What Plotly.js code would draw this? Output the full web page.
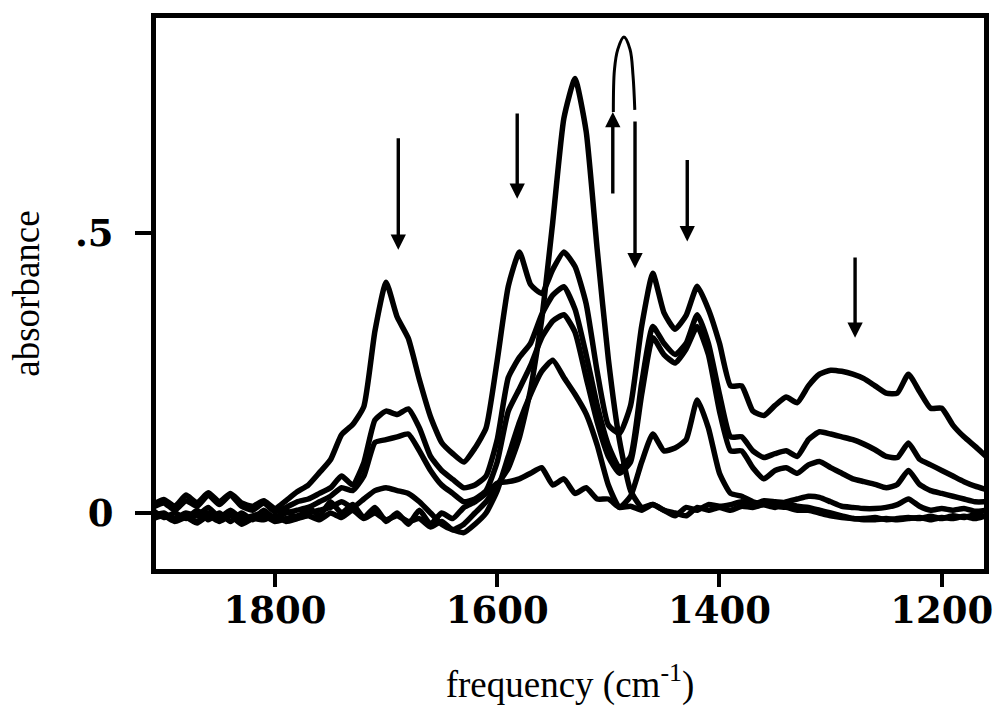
<!DOCTYPE html>
<html>
<head>
<meta charset="utf-8">
<script src="https://cdn.plot.ly/plotly-3.0.1.min.js"></script>
<style>html,body{margin:0;padding:0;background:#fff;}#chart{width:1002px;height:710px;}</style>
</head>
<body>
<div id="chart"></div>
<script>
// frequency grid (cm^-1)
const freq = [1910,1900,1890,1880,1870,1860,1850,1840,1830,1820,
  1810,1800,1790,1780,1770,1760,1750,1740,1730,1720,
  1710,1700,1690,1680,1670,1660,1650,1640,1630,1620,
  1610,1600,1590,1580,1570,1560,1550,1540,1530,1520,
  1510,1500,1490,1480,1470,1460,1450,1440,1430,1420,
  1410,1400,1390,1380,1370,1360,1350,1340,1330,1320,
  1310,1300,1290,1280,1270,1260,1250,1240,1230,1220,
  1210,1200,1190,1180,1170,1160];

// absorbance spectra
const spec1 = [0.015,0.024,0.012,0.032,0.018,0.036,0.020,0.035,0.018,0.012,
  0.022,0.008,0.022,0.038,0.050,0.072,0.095,0.140,0.158,0.190,
  0.325,0.412,0.350,0.312,0.238,0.172,0.126,0.106,0.091,0.116,
  0.152,0.272,0.405,0.466,0.408,0.392,0.435,0.466,0.440,0.374,
  0.252,0.157,0.142,0.192,0.334,0.428,0.358,0.328,0.353,0.405,
  0.364,0.303,0.227,0.227,0.182,0.174,0.192,0.207,0.197,0.227,
  0.248,0.255,0.253,0.248,0.240,0.227,0.214,0.214,0.248,0.217,
  0.187,0.187,0.157,0.136,0.119,0.101];
const spec2 = [0.010,0.018,0.005,0.022,0.012,0.032,0.015,0.032,0.012,0.005,
  0.018,0.002,0.010,0.020,0.025,0.035,0.045,0.066,0.050,0.090,
  0.166,0.182,0.176,0.186,0.152,0.101,0.076,0.060,0.045,0.050,
  0.066,0.131,0.242,0.278,0.303,0.354,0.389,0.404,0.364,0.283,
  0.192,0.121,0.081,0.101,0.232,0.333,0.303,0.283,0.303,0.354,
  0.303,0.212,0.136,0.136,0.111,0.099,0.106,0.111,0.101,0.131,
  0.145,0.141,0.136,0.131,0.123,0.113,0.101,0.099,0.125,0.096,
  0.086,0.076,0.066,0.056,0.048,0.042];
const spec3 = [0.000,-0.005,-0.010,0.000,-0.005,0.010,-0.008,0.005,-0.010,-0.005,
  0.000,-0.010,0.000,0.005,0.010,0.020,0.030,0.045,0.040,0.066,
  0.126,0.131,0.136,0.141,0.111,0.076,0.050,0.035,0.020,0.025,
  0.040,0.091,0.182,0.222,0.263,0.313,0.343,0.354,0.323,0.242,
  0.162,0.101,0.071,0.091,0.212,0.313,0.283,0.268,0.293,0.333,
  0.283,0.182,0.111,0.111,0.081,0.061,0.076,0.081,0.071,0.086,
  0.092,0.081,0.071,0.061,0.056,0.051,0.045,0.051,0.076,0.051,
  0.040,0.035,0.030,0.025,0.020,0.020];
const spec4 = [-0.005,0.000,-0.012,-0.005,-0.015,0.000,-0.012,0.000,-0.015,-0.010,
  -0.005,-0.015,-0.010,-0.005,0.000,0.005,0.010,0.020,0.010,0.025,
  0.040,0.045,0.040,0.035,0.020,0.000,-0.020,-0.030,-0.035,-0.020,
  0.000,0.040,0.101,0.162,0.212,0.253,0.273,0.242,0.212,0.177,
  0.121,0.050,0.010,0.030,0.091,0.141,0.111,0.116,0.131,0.202,
  0.152,0.071,0.035,0.030,0.020,0.015,0.010,0.020,0.025,0.030,
  0.028,0.020,0.012,0.010,0.008,0.008,0.010,0.015,0.025,0.012,
  0.005,0.008,0.005,0.008,0.003,0.005];
const spec5 = [0.005,-0.008,0.000,-0.010,0.005,-0.012,0.000,-0.015,0.000,-0.012,
  0.005,-0.010,0.005,-0.010,0.010,-0.005,0.020,0.000,0.015,-0.008,
  0.010,-0.015,0.000,-0.020,0.005,-0.020,0.000,-0.010,0.010,0.020,
  0.035,0.053,0.056,0.061,0.071,0.081,0.050,0.061,0.035,0.045,
  0.025,0.025,0.010,0.012,0.005,0.015,0.005,-0.005,0.010,0.005,
  0.015,0.012,0.015,0.020,0.015,0.022,0.020,0.018,0.012,0.010,
  0.005,0.000,-0.005,-0.010,-0.010,-0.008,-0.012,-0.010,-0.008,-0.010,
  -0.006,-0.010,-0.005,-0.008,-0.003,-0.006];
const spec6 = [-0.010,-0.005,-0.015,-0.008,-0.018,-0.005,-0.015,-0.005,-0.020,-0.010,
  -0.012,-0.005,-0.015,-0.010,-0.005,-0.012,0.000,-0.008,0.005,-0.010,
  0.000,-0.012,-0.005,-0.015,-0.010,-0.025,-0.015,-0.030,-0.020,0.000,
  0.020,0.050,0.080,0.135,0.220,0.345,0.520,0.705,0.776,0.682,
  0.470,0.275,0.130,0.040,0.010,0.015,0.005,0.000,-0.005,0.010,
  0.005,0.010,0.005,0.012,0.010,0.015,0.012,0.010,0.005,0.005,
  0.000,-0.005,-0.008,-0.010,-0.012,-0.012,-0.010,-0.012,-0.010,-0.008,
  -0.012,-0.008,-0.010,-0.006,-0.010,-0.005];

// arrows: position, tail and head absorbance
const arrowFreq = [1689, 1582, 1496, 1476, 1429, 1278];
const arrowTail = [0.672, 0.716, 0.568, 0.702, 0.633, 0.459];
const arrowHead = [0.470, 0.561, 0.716, 0.437, 0.485, 0.313];
// hairpin loop joining the up and down arrows at ~1490
const loopFreq = [1495.5, 1494.5, 1491.5, 1486, 1480.5, 1477.8, 1476.2];
const loopAbs = [0.716, 0.792, 0.828, 0.850, 0.828, 0.781, 0.720];

const tickVals = [1800, 1600, 1400, 1200];
const yTickVals = [0, 0.5];
const yTickText = ['0', '.5'];

const spectra = [spec1, spec2, spec3, spec4, spec5, spec6];
const traces = spectra.map(s => ({
  x: freq, y: s, type: 'scatter', mode: 'lines',
  line: {color: '#000', width: 5.5, shape: 'spline', smoothing: 0.5},
  hoverinfo: 'skip', showlegend: false
}));
traces.push({
  x: loopFreq, y: loopAbs, type: 'scatter', mode: 'lines',
  line: {color: '#000', width: 3, shape: 'spline', smoothing: 1},
  hoverinfo: 'skip', showlegend: false
});

const annotations = arrowFreq.map((f, i) => ({
  x: f, y: arrowHead[i], ax: f, ay: arrowTail[i],
  xref: 'x', yref: 'y', axref: 'x', ayref: 'y',
  text: '', showarrow: true, arrowhead: 2, arrowsize: 0.9,
  arrowwidth: 3.4, arrowcolor: '#000', standoff: 0, startstandoff: 0
}));

const tickFont = {family: 'DejaVu Serif', size: 37, color: '#000', weight: 'bold'};
const titleFont = {family: 'Liberation Serif', size: 37, color: '#000'};

const layout = {
  width: 1002, height: 710,
  margin: {l: 156, r: 18, t: 18, b: 141},
  paper_bgcolor: '#fff', plot_bgcolor: '#fff',
  showlegend: false,
  xaxis: {
    range: [1907, 1162], tickvals: tickVals, ticks: 'outside', ticklen: 13, tickwidth: 4,
    tickcolor: '#000', showline: true, linewidth: 5, linecolor: '#000', mirror: true,
    showgrid: false, zeroline: false, tickfont: tickFont, ticklabelstandoff: -8,
    title: {text: 'frequency (cm<sup>-1</sup>)', font: titleFont, standoff: 41}
  },
  yaxis: {
    range: [-0.1, 0.884], tickvals: yTickVals, ticktext: yTickText, ticks: 'outside',
    ticklen: 16, tickwidth: 4, tickcolor: '#000', showline: true, linewidth: 5,
    linecolor: '#000', mirror: true, showgrid: false, zeroline: false,
    tickfont: tickFont, ticklabelstandoff: 14,
    title: {text: 'absorbance', font: titleFont, standoff: 26}
  },
  annotations: annotations
};

Plotly.newPlot('chart', traces, layout, {staticPlot: true, displayModeBar: false});
</script>
</body>
</html>
